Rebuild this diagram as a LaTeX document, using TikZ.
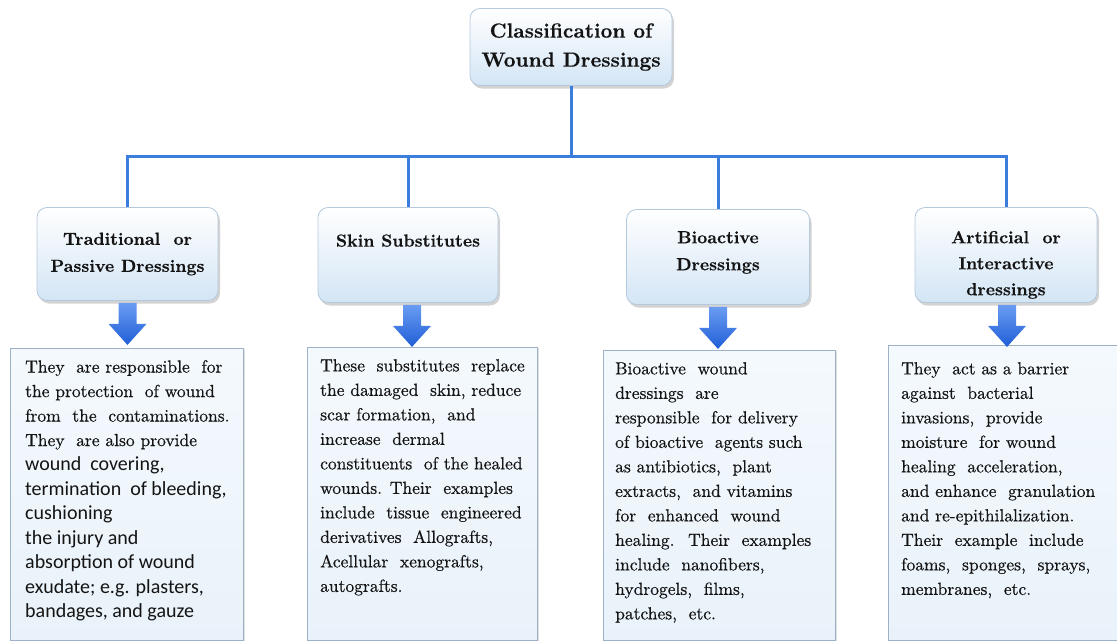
\documentclass[tikz,border=0pt]{standalone}
\usepackage{fontspec}
\setmainfont{lmroman10-regular.otf}[BoldFont=lmroman10-bold.otf, UprightFeatures={FakeBold=0.5}, BoldFeatures={FakeBold=0.3}]
\newfontfamily\calibrifont{Carlito}
\usetikzlibrary{calc,shadows}
\definecolor{linecol}{HTML}{3B7DDD}
\definecolor{boxtop}{HTML}{FFFFFF}
\definecolor{boxbot}{HTML}{D3E5F5}
\definecolor{boxedge}{HTML}{B5C9DC}
\definecolor{desctop}{HTML}{F4F9FD}
\definecolor{descbot}{HTML}{E9F2FA}
\definecolor{descedge}{HTML}{9DB2C8}
\definecolor{arrtop}{HTML}{6A9CF2}
\definecolor{arrbot}{HTML}{1F5ED6}
\definecolor{txt}{HTML}{141414}
\tikzset{
  catbox/.style={draw=boxedge, line width=0.8pt, rounded corners=10pt,
    top color=boxtop, bottom color=boxbot, align=center, text=txt,
    drop shadow={opacity=0.35, shadow xshift=2pt, shadow yshift=-3pt},
    inner sep=0pt},
  descbox/.style={draw=descedge, line width=0.8pt, top color=desctop, bottom color=descbot,
    drop shadow={opacity=0.25, shadow xshift=2pt, shadow yshift=-1pt}, inner sep=0pt},
  desctext/.style={anchor=north west, align=left, inner sep=0pt, text=txt,
    font=\fontsize{17.5}{24.5}\selectfont},
  conn/.style={draw=linecol, line width=3pt},
  arrowfill/.style={top color=arrtop, bottom color=arrbot, draw=none},
}
\newcommand\calline[1]{{\calibrifont\fontsize{20}{24.5}\selectfont #1}}
\begin{document}
\begin{tikzpicture}[x=1pt,y=-1pt]
\useasboundingbox (0,0) rectangle (1117,643);
% top
\node[catbox, minimum width=202pt, minimum height=77pt,
  font=\bfseries\fontsize{20.5}{29}\selectfont] (top) at (571,47) {Classification of\\Wound Dressings};
% level 2
\node[catbox, minimum width=181pt, minimum height=93pt,
  font=\bfseries\fontsize{17.5}{27}\selectfont] (t1) at (127.5,254) {Traditional \ or\\Passive Dressings};
\node[catbox, minimum width=180pt, minimum height=95pt,
  font=\bfseries\fontsize{17.5}{27}\selectfont] (t2) at (408,255) {Skin Substitutes\\[2pt]\mbox{}};
\node[catbox, minimum width=183pt, minimum height=95pt,
  font=\bfseries\fontsize{17.5}{27}\selectfont] (t3) at (718,257) {\mbox{}\\[-24pt]Bioactive\\Dressings};
\node[catbox, minimum width=182pt, minimum height=95pt,
  font=\bfseries\fontsize{17.5}{26}\selectfont] (t4) at (1006,255) {\mbox{}\\[6pt]Artificial \ or\\Interactive\\dressings};
% connectors
\coordinate (bus) at (571,156);
\draw[conn] (top.south) -- (bus);
\draw[conn] (t1.north) |- (bus);
\draw[conn] (t2.north) |- (bus);
\draw[conn] (t3.north) |- (bus);
\draw[conn] (t4.north) |- (bus);
% description boxes
\node[descbox, minimum width=233pt, minimum height=292pt, anchor=north west] (d1) at (10,348) {};
\node[descbox, minimum width=230pt, minimum height=293pt, anchor=north west] (d2) at (307,347) {};
\node[descbox, minimum width=232pt, minimum height=290pt, anchor=north west] (d3) at (603,350) {};
\node[descbox, minimum width=229pt, minimum height=295pt, anchor=north west] (d4) at (888,345) {};
% arrows
\foreach \b/\dx in {t1/0,t2/4,t3/0,t4/1}{
  \path[arrowfill] ($(\b.south)+(\dx-9,2)$) -- ++(0,21) -- ++(-10,0)
     -- ($(\b.south)+(\dx,44)$) -- ($(\b.south)+(\dx+19,23)$) -- ++(-10,0)
     -- ++(0,-21) -- cycle;
}
% texts
\node[desctext] (x1) at (25,360) {They \ are responsible \ for\\
the protection \ of wound\\
from \ the \ contaminations.\\
They \ are also provide\\
\calline{wound \ covering,}\\
\calline{termination \ of bleeding,}\\
\calline{cushioning}\\
\calline{the injury and}\\
\calline{absorption of wound}\\
\calline{exudate; e.g. plasters,}\\
\calline{bandages, and gauze}};
\node[desctext] (x2) at (320,359) {These \ substitutes \ replace\\
the damaged \ skin, reduce\\
scar formation, \ and\\
increase \ dermal\\
constituents \ of the healed\\
wounds. Their \ examples\\
include \ tissue \ engineered\\
derivatives \ Allografts,\\
Acellular \ xenografts,\\
autografts.};
\node[desctext] (x3) at (615,362) {Bioactive \ wound\\
dressings \ are\\
responsible \ for delivery\\
of bioactive \ agents such\\
as antibiotics, \ plant\\
extracts, \ and vitamins\\
for \ enhanced \ wound\\
healing. \ Their \ examples\\
include \ nanofibers,\\
hydrogels, \ films,\\
patches, \ etc.};
\node[desctext] (x4) at (901,362) {They \ act as a barrier\\
against \ bacterial\\
invasions, \ provide\\
moisture \ for wound\\
healing \ acceleration,\\
and enhance \ granulation\\
and re-epithilalization.\\
Their \ example \ include\\
foams, \ sponges, \ sprays,\\
membranes, \ etc.};
\end{tikzpicture}
\end{document}
